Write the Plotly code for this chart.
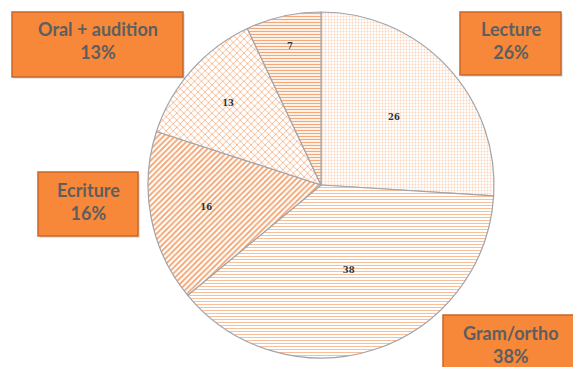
import plotly.graph_objects as go

categories = ["Lecture", "Gram/ortho", "Ecriture", "Oral + audition", "Autre"]
values = [26, 38, 16, 13, 7]
box_labels = ["Lecture<br>26%", "Gram/ortho<br>38%", "Ecriture<br>16%", "Oral + audition<br>13%"]

W, H = 573, 367

fig = go.Figure()
fig.add_trace(go.Pie(
    labels=categories,
    values=values,
    sort=False,
    direction="clockwise",
    rotation=0,
    domain=dict(x=[148 / W, 494 / W], y=[(H - 358) / H, (H - 12) / H]),
    marker=dict(
        colors=["white"] * 5,
        line=dict(color="#a4a4a8", width=1.2),
        pattern=dict(
            shape=[".", "-", "/", "x", "-"],
            fgcolor=["#fad3b8", "#f9bf99", "#f4a06a", "#f6b186", "#f5a877"],
            bgcolor=["white"] * 5,
            size=[3, 3, 4, 5, 3],
            solidity=[0.3, 0.35, 0.45, 0.3, 0.45],
            fillmode="replace",
        ),
    ),
    texttemplate="<b>%{value}</b>",
    textposition="inside",
    insidetextorientation="horizontal",
    textfont=dict(size=8.5, color="#333333", family="DejaVu Serif"),
    showlegend=False,
    hoverinfo="label+value",
))

# label boxes (left, top, right, bottom in pixels)
boxes = [
    (460, 12, 561, 75),
    (443, 315, 578, 380),
    (38, 172, 138, 236),
    (12, 12, 183, 77),
]
for (x0, y0, x1, y1), txt in zip(boxes, box_labels):
    # shadow
    fig.add_shape(type="rect", xref="paper", yref="paper",
                  x0=(x0 + 2) / W, x1=(x1 + 2) / W,
                  y0=1 - (y1 + 2) / H, y1=1 - (y0 + 2) / H,
                  fillcolor="rgba(0,0,0,0.10)", line=dict(width=0), layer="above")
    fig.add_shape(type="rect", xref="paper", yref="paper",
                  x0=x0 / W, x1=x1 / W, y0=1 - y1 / H, y1=1 - y0 / H,
                  fillcolor="#f7883a", line=dict(color="#c8652a", width=1.5), layer="above")
    fig.add_annotation(
        xref="paper", yref="paper",
        x=(x0 + x1) / 2 / W, y=1 - (y0 + 29) / H,
        xanchor="center", yanchor="middle",
        text="<b>" + txt + "</b>", showarrow=False,
        font=dict(family="Lato", size=18, color="#5e5e5e"),
        align="center",
    )

fig.update_layout(
    width=W, height=H,
    margin=dict(l=0, r=0, t=0, b=0),
    paper_bgcolor="white",
    plot_bgcolor="white",
)
fig.write_html("out.html")
